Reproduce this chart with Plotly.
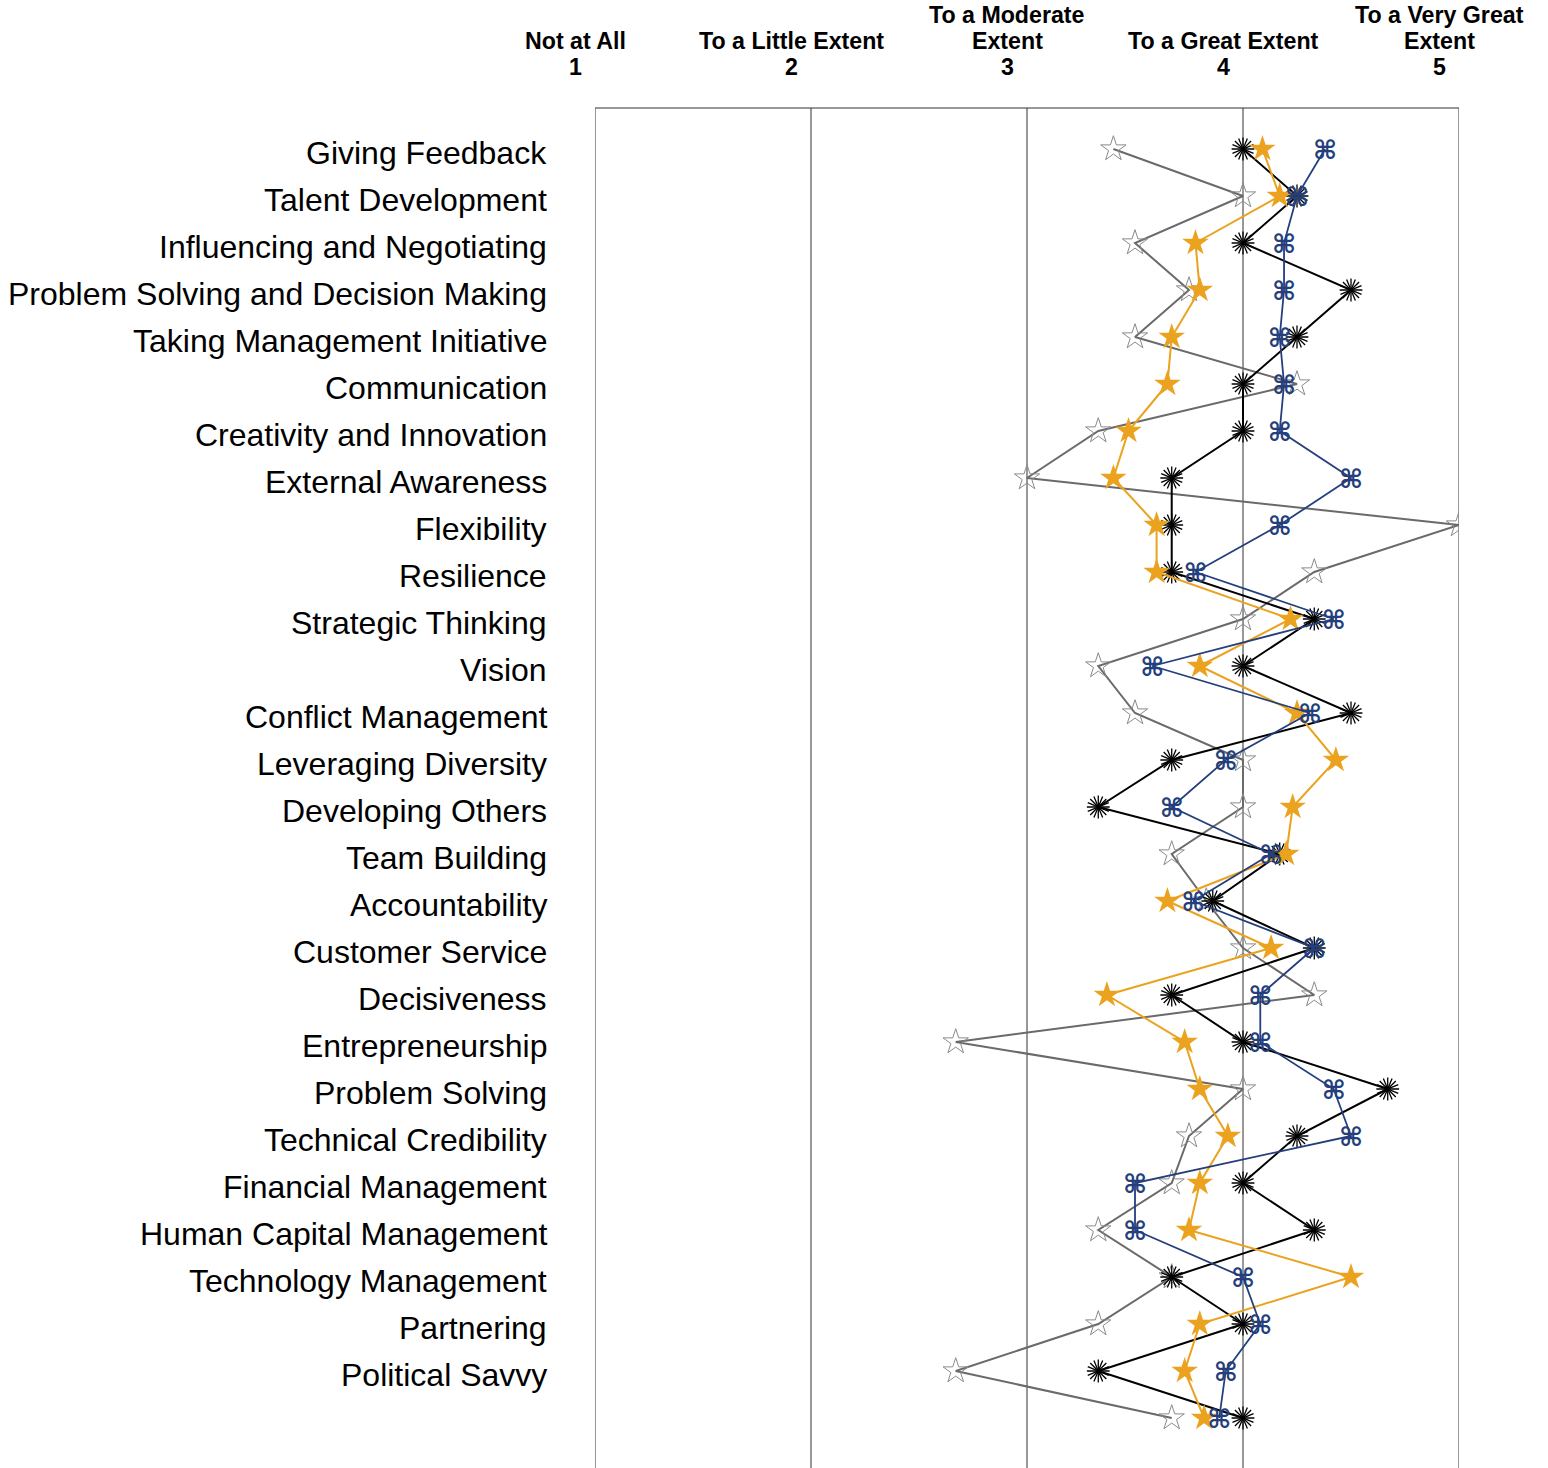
import plotly.graph_objects as go

# ---------------- data ----------------
competencies = [
    "Giving Feedback", "Talent Development", "Influencing and Negotiating",
    "Problem Solving and Decision Making", "Taking Management Initiative",
    "Communication", "Creativity and Innovation", "External Awareness",
    "Flexibility", "Resilience", "Strategic Thinking", "Vision",
    "Conflict Management", "Leveraging Diversity", "Developing Others",
    "Team Building", "Accountability", "Customer Service", "Decisiveness",
    "Entrepreneurship", "Problem Solving", "Technical Credibility",
    "Financial Management", "Human Capital Management",
    "Technology Management", "Partnering", "Political Savvy",
]
n_rows = 28  # last row is unlabeled

series_grey = [3.40, 4.00, 3.50, 3.75, 3.50, 4.25, 3.33, 3.00, 5.00, 4.33,
               4.00, 3.33, 3.50, 4.00, 4.00, 3.67, 3.83, 4.00, 4.33, 2.67,
               4.00, 3.75, 3.67, 3.33, 3.67, 3.33, 2.67, 3.67]
series_orange = [4.09, 4.17, 3.78, 3.80, 3.67, 3.65, 3.47, 3.40, 3.60, 3.60,
                 4.22, 3.80, 4.25, 4.43, 4.23, 4.20, 3.65, 4.13, 3.37, 3.73,
                 3.80, 3.93, 3.80, 3.75, 4.50, 3.80, 3.73, 3.82]
series_black = [4.00, 4.25, 4.00, 4.50, 4.25, 4.00, 4.00, 3.67, 3.67, 3.67,
                4.33, 4.00, 4.50, 3.67, 3.33, 4.17, 3.86, 4.33, 3.67, 4.00,
                4.67, 4.25, 4.00, 4.33, 3.67, 4.00, 3.33, 4.00]
series_navy = [4.38, 4.25, 4.19, 4.19, 4.17, 4.19, 4.17, 4.50, 4.17, 3.78,
               4.42, 3.58, 4.31, 3.92, 3.67, 4.13, 3.77, 4.33, 4.08, 4.08,
               4.42, 4.50, 3.50, 3.50, 4.00, 4.08, 3.92, 3.89]

scale_values = [1, 2, 3, 4, 5]
scale_labels = [
    ["Not at All"],
    ["To a Little Extent"],
    ["To a Moderate", "Extent"],
    ["To a Great Extent"],
    ["To a Very Great", "Extent"],
]

# ---------------- figure ----------------
W, H = 1548, 1468
TOP, BOTTOM, LEFT, RIGHT = 108, 0, 595, 89
plot_h = H - TOP - BOTTOM
row_px = 47
first_row_px = 149
y_top = -(first_row_px - TOP) / row_px
y_bottom = y_top + plot_h / row_px
glyph_drop = 3 / row_px  # nudge the text glyph so it sits centred on the line vertex

rows = list(range(n_rows))

GREY_LINE = "#6a6a6a"
GREY_MARK = "#8a8a8a"
ORANGE = "#EBA21E"
BLACK = "#000000"
NAVY = "#243F7C"
FRAME = "#333333"

fig = go.Figure()

fig.add_trace(go.Scatter(
    x=series_grey, y=rows, mode="lines+markers",
    line=dict(color=GREY_LINE, width=2),
    marker=dict(symbol="star-open", size=19, color=GREY_MARK,
                line=dict(color=GREY_MARK, width=1)),
    hoverinfo="skip", showlegend=False,
))
fig.add_trace(go.Scatter(
    x=series_black, y=rows, mode="lines+markers",
    line=dict(color=BLACK, width=2),
    marker=dict(symbol="asterisk-open", size=19, color=BLACK,
                line=dict(color=BLACK, width=1.3)),
    hoverinfo="skip", showlegend=False,
))
fig.add_trace(go.Scatter(
    x=series_black, y=rows, mode="markers",
    marker=dict(symbol="asterisk-open", size=19, angle=22.5, color=BLACK,
                line=dict(color=BLACK, width=1.3)),
    hoverinfo="skip", showlegend=False,
))
fig.add_trace(go.Scatter(
    x=series_orange, y=rows, mode="lines+markers",
    line=dict(color=ORANGE, width=2),
    marker=dict(symbol="star", size=20, color=ORANGE,
                line=dict(width=0)),
    hoverinfo="skip", showlegend=False,
))
fig.add_trace(go.Scatter(
    x=series_navy, y=rows, mode="lines",
    line=dict(color=NAVY, width=1.8),
    hoverinfo="skip", showlegend=False,
))
fig.add_trace(go.Scatter(
    x=series_navy, y=rows, mode="text", yaxis="y2",
    text=["<b>\u2318</b>"] * n_rows, textposition="middle center",
    textfont=dict(family="DejaVu Sans", size=26, color=NAVY),
    hoverinfo="skip", showlegend=False,
))

# frame: vertical lines at each scale value + top border
for v in scale_values:
    fig.add_shape(type="line", xref="x", yref="paper", x0=v, x1=v, y0=0, y1=1,
                  line=dict(color=FRAME, width=1), layer="below")
fig.add_shape(type="line", xref="x", yref="paper", x0=scale_values[0],
              x1=scale_values[-1], y0=1, y1=1,
              line=dict(color=FRAME, width=1), layer="below")

# header annotations (one per text line)
line_px = [15, 41, 67]
def paper_y(px):
    return (H - BOTTOM - px) / plot_h

for v, lines in zip(scale_values, scale_labels):
    all_lines = lines + [str(v)]
    start = 3 - len(all_lines)
    for k, txt in enumerate(all_lines):
        fig.add_annotation(
            x=v, xref="x", xshift=-20, y=paper_y(line_px[start + k]), yref="paper",
            text=f"<b>{txt}</b>", showarrow=False, xanchor="center",
            yanchor="middle",
            font=dict(family="Liberation Sans, Arial", size=23.2, color="black"),
        )

# row labels (placed slightly below each row, right-aligned left of the plot)
for i, name in enumerate(competencies):
    fig.add_annotation(
        x=0, xref="paper", xanchor="right", xshift=-46,
        y=i, yref="y", yanchor="middle", yshift=-4,
        text=name, showarrow=False,
        font=dict(family="Liberation Sans, Arial", size=32, color="black"),
    )

fig.update_layout(
    width=W, height=H,
    margin=dict(l=LEFT, r=RIGHT, t=TOP, b=BOTTOM, pad=0),
    paper_bgcolor="white", plot_bgcolor="white",
    xaxis=dict(range=[scale_values[0], scale_values[-1]], showgrid=False,
               zeroline=False, showticklabels=False, showline=False,
               fixedrange=True),
    yaxis=dict(range=[y_bottom, y_top], showgrid=False, zeroline=False,
               showline=False, showticklabels=False, fixedrange=True),
    yaxis2=dict(range=[y_bottom - glyph_drop, y_top - glyph_drop],
                overlaying="y", showgrid=False, zeroline=False,
                showline=False, showticklabels=False, fixedrange=True),
    showlegend=False,
)

fig.write_html("out.html", config={"displayModeBar": False},
               post_script="document.body.style.margin='0';document.body.style.overflow='hidden';")
